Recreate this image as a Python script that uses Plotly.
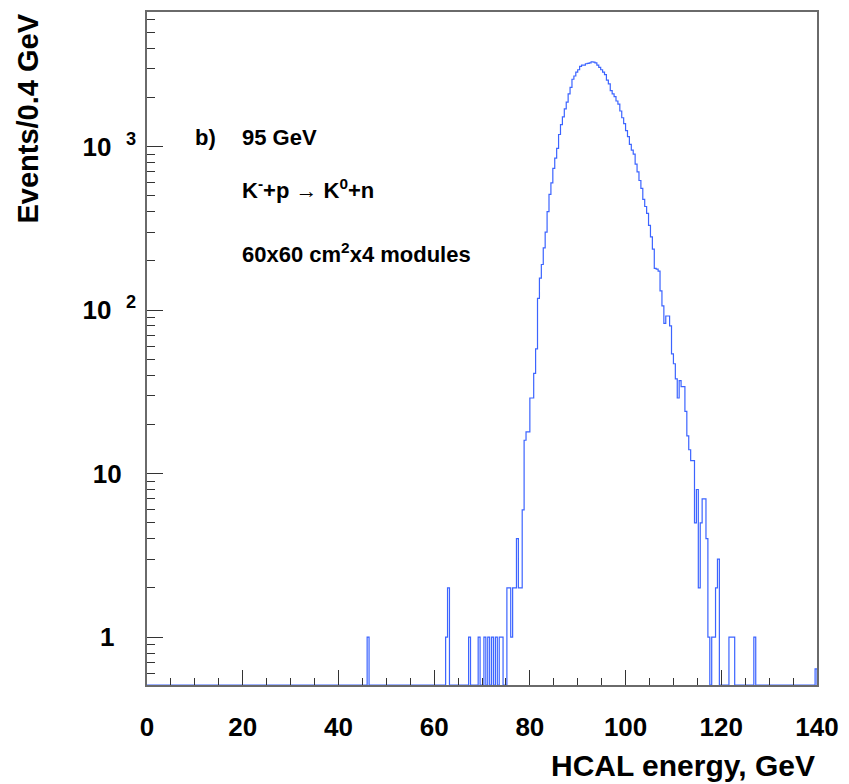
import math
import plotly.graph_objects as go

# ---- data: histogram of HCAL energy, 0.4 GeV bins from 0 to 140 GeV ----
bin_width = 0.4
x_min, x_max = 0.0, 140.0

# lower edges (GeV) of the non-empty bins and their contents
bin_low = [
    46.0,
    62.4, 62.8, 67.2, 69.2, 70.4, 71.2, 72.0, 72.8, 73.6, 74.0,
    75.2, 75.6, 76.0, 76.4, 76.8, 77.2, 77.6, 78.0, 78.4, 78.8,
    79.2, 79.6, 80.0, 80.4, 80.8, 81.2, 81.6, 82.0, 82.4, 82.8,
    83.2, 83.6, 84.0, 84.4, 84.8, 85.2, 85.6, 86.0, 86.4, 86.8,
    87.2, 87.6, 88.0, 88.4, 88.8, 89.2, 89.6, 90.0, 90.4, 90.8,
    91.2, 91.6, 92.0, 92.4, 92.8, 93.2, 93.6, 94.0, 94.4, 94.8,
    95.2, 95.6, 96.0, 96.4, 96.8, 97.2, 97.6, 98.0, 98.4, 98.8,
    99.2, 99.6, 100.0, 100.4, 100.8, 101.2, 101.6, 102.0, 102.4, 102.8,
    103.2, 103.6, 104.0, 104.4, 104.8, 105.2, 105.6, 106.0, 106.4, 106.8,
    107.2, 107.6, 108.0, 108.4, 108.8, 109.2, 109.6, 110.0, 110.4, 110.8,
    111.2, 111.6, 112.0, 112.4, 112.8, 113.2, 113.6, 114.0, 114.4, 114.8,
    115.2, 115.6, 116.0, 116.4, 116.8, 117.2, 118.0, 118.4, 118.8, 119.2,
    121.6, 122.0, 122.4, 126.8, 139.6,
]
events = [
    1,
    1, 2, 1, 1, 1, 1, 1, 1, 1, 1,
    2, 2, 1, 2, 2, 4, 2, 2, 6, 16,
    18, 18, 29, 29, 41, 58, 118, 157, 190, 240,
    300, 400, 510, 600, 735, 850, 976, 1185, 1360, 1520,
    1700, 1870, 2100, 2300, 2580, 2700, 2850, 2950, 3090, 3150,
    3150, 3210, 3230, 3250, 3300, 3280, 3250, 3150, 3050, 2950,
    2850, 2750, 2550, 2420, 2200, 2100, 2020, 1900, 1820, 1650,
    1500, 1380, 1250, 1150, 1030, 950, 900, 780, 700, 620,
    555, 475, 430, 390, 330, 280, 236, 180, 178, 173,
    131, 106, 83, 92, 92, 80, 54, 47, 38, 29,
    37, 34, 34, 24, 17, 14, 12, 12, 5, 8,
    2, 5, 7, 7, 4, 1, 1, 1, 2, 3,
    1, 1, 1, 1, 0.64,
]

x_ticks = [0, 20, 40, 60, 80, 100, 120, 140]
y_ticks = [1, 10, 100, 1000]
y_tick_text = ["1&nbsp;&nbsp;&nbsp;", "10&nbsp;&nbsp;",
               "10&nbsp;&nbsp;<sup>2</sup>", "10&nbsp;&nbsp;<sup>3</sup>"]
y_minor = [0.6, 0.7, 0.8, 0.9] + [m * d for d in (1, 10, 100, 1000) for m in range(2, 10)]

y_lo, y_hi = 0.51, 6650.0

# ---- build full histogram (empty bins sit on the frame bottom) ----
n_bins = int(round((x_max - x_min) / bin_width))
contents = [0.0] * n_bins
for lo, c in zip(bin_low, events):
    contents[int(round((lo - x_min) / bin_width))] = c
edges = [round(x_min + i * bin_width, 4) for i in range(n_bins)]
base = y_lo
vals = [c if c > 0 else base for c in contents]
xs = edges + [x_max, x_max]
ys = vals + [vals[-1], base]

fig = go.Figure()
fig.add_trace(go.Scatter(
    x=xs, y=ys, mode="lines", line=dict(color="rgb(60,100,255)", width=1.2, shape="hv"),
    showlegend=False, hoverinfo="skip",
))

font_family = "Liberation Sans, Arial, Helvetica, sans-serif"

fig.update_layout(
    width=849, height=784,
    margin=dict(l=147, r=29, t=10, b=99),
    paper_bgcolor="white", plot_bgcolor="white",
    font=dict(family=font_family, color="black"),
    xaxis=dict(
        range=[x_min, x_max], showgrid=False, zeroline=False,
        showline=True, mirror=True, linecolor="#6a6a6a", linewidth=1.5,
        tickmode="array", tickvals=x_ticks, ticks="inside", ticklen=15,
        tickwidth=1.2, tickcolor="#333",
        tickfont=dict(size=26, family=font_family, weight="bold"),
        ticklabelstandoff=18,
        minor=dict(tick0=0, dtick=5, ticks="inside", ticklen=7, tickwidth=1.2,
                   tickcolor="#333", showgrid=False),
    ),
    yaxis=dict(
        type="log", range=[math.log10(y_lo), math.log10(y_hi)],
        showgrid=False, zeroline=False,
        showline=True, mirror=True, linecolor="#6a6a6a", linewidth=1.5,
        tickmode="array", tickvals=y_ticks, ticktext=y_tick_text,
        ticks="inside", ticklen=16, tickwidth=1.2, tickcolor="#333",
        tickfont=dict(size=26, family=font_family, weight="bold"),
        ticklabelstandoff=4,
        minor=dict(tickmode="array", tickvals=y_minor, ticks="inside", ticklen=8,
                   tickwidth=1.2, tickcolor="#333", showgrid=False),
    ),
)

ann_font = dict(size=22, family=font_family, color="black", weight="bold")
title_font_x = dict(size=30, family=font_family, color="black", weight="bold")
title_font_y = dict(size=29, family=font_family, color="black", weight="bold")

def px_x(p):
    return (p - 147) / 673.0

def px_y(p):
    return (685 - p) / 675.0

annotations = [
    dict(text="b)", x=px_x(193), y=px_y(136), xanchor="left", yanchor="middle", font=ann_font),
    dict(text="95 GeV", x=px_x(240), y=px_y(136), xanchor="left", yanchor="middle", font=ann_font),
    dict(text="K<sup>-</sup>+p \u2192 K<sup>0</sup>+n", x=px_x(240), y=px_y(188),
         xanchor="left", yanchor="middle", font=ann_font),
    dict(text="60x60 cm<sup>2</sup>x4 modules", x=px_x(240), y=px_y(252),
         xanchor="left", yanchor="middle", font=ann_font),
    dict(text="HCAL energy, GeV", x=1.0, y=px_y(766), xanchor="right", yanchor="middle",
         font=title_font_x),
    dict(text="Events/0.4 GeV", x=px_x(27), y=1.0, xanchor="center", yanchor="top",
         textangle=-90, font=title_font_y),
]
for a in annotations:
    a.update(xref="paper", yref="paper", showarrow=False)
fig.update_layout(annotations=annotations)

fig.write_html("out.html")
